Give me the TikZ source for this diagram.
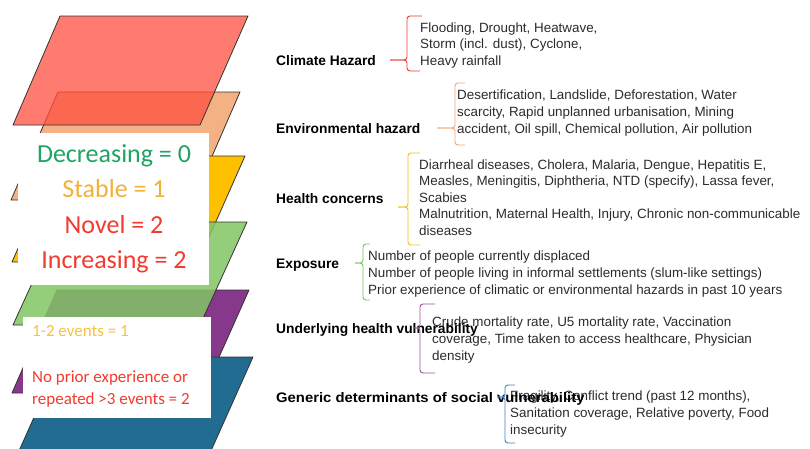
\documentclass[tikz,border=0pt]{standalone}
\usepackage{fontspec}
\setmainfont{Liberation Sans}
\newfontfamily\keyfont{Carlito}
\definecolor{layred}{HTML}{FF4F40}
\definecolor{laypeach}{HTML}{F4B183}
\definecolor{layyellow}{HTML}{FFC000}
\definecolor{laygreen}{HTML}{82C564}
\definecolor{laypurple}{HTML}{86388A}
\definecolor{layblue}{HTML}{216C90}
\definecolor{keygreen}{HTML}{1FA463}
\definecolor{keyorange}{HTML}{F2B13A}
\definecolor{keyred}{HTML}{F23B2E}
\definecolor{keyyellow}{HTML}{F9C23C}
\definecolor{brred}{HTML}{F0382C}
\definecolor{brpeach}{HTML}{F4A46E}
\definecolor{bryellow}{HTML}{F5BC1C}
\definecolor{brgreen}{HTML}{7CC35C}
\definecolor{brpurple}{HTML}{9A4E98}
\definecolor{brblue}{HTML}{3A83C8}
\definecolor{bodytext}{HTML}{2B2B2B}

% brace: colour, tip x, tip y, spine x, top y, bottom y, top arm x, bottom arm x
\newcommand\catbrace[8]{%
  \draw[bracestroke, draw=#1] (#7,#5) -- (#4,#5) -- (#4,#3) -- (#2,#3);
  \draw[bracestroke, draw=#1] (#8,#6) -- (#4,#6) -- (#4,#3) -- (#2,#3);}

\begin{document}
\begin{tikzpicture}[x=1pt,y=-1pt,
  layer/.style={draw=black!80, line width=0.8pt, line join=round},
  keybox/.style={fill=white, draw=none},
  keytext/.style={font=\keyfont\fontsize{26}{30}\selectfont, inner sep=0, anchor=base},
  smallkey/.style={font=\keyfont\fontsize{17}{20}\selectfont, inner sep=0, anchor=base west},
  lbl/.style={font=\bfseries\fontsize{13.8}{15}\selectfont, text=black, inner sep=0, anchor=base west},
  items/.style={font=\fontsize{13.4}{16.6}\selectfont, text=bodytext, inner sep=0, anchor=base west, align=left},
  bracestroke/.style={line width=0.9pt, rounded corners=3pt}]
\useasboundingbox (0,0) rectangle (810,448);
\clip (0,0) rectangle (810,448);

% stacked layers
\draw[layer, fill=laypeach] (58,92) -- (240,92) -- (193,200) -- (11,200) -- cycle;
\draw[layer, fill=layred, fill opacity=0.75] (60,16) -- (248,16) -- (200,125) -- (13,125) -- cycle;
\draw[layer, fill=layyellow] (59,156) -- (245,156) -- (198,262) -- (12,262) -- cycle;
\draw[layer, fill=laypurple] (57,290) -- (249,290) -- (203,393) -- (12,393) -- cycle;
\draw[layer, fill=layblue] (61,357) -- (253,357) -- (206,462) -- (14,462) -- cycle;
\draw[layer, fill=laygreen, fill opacity=0.85] (60,222) -- (247,222) -- (200,325) -- (13,325) -- cycle;

% score keys
\fill[keybox] (18,133) rectangle (209,285);
\node[keytext, text=keygreen] (k0) at (114,162) {Decreasing = 0};
\node[keytext, text=keyorange] (k1) at (114,197.5) {Stable = 1};
\node[keytext, text=keyred] (k2) at (114,233) {Novel = 2};
\node[keytext, text=keyred] (k3) at (114,268.5) {Increasing = 2};

\fill[keybox] (23,317) rectangle (211,418);
\node[smallkey, text=keyyellow] (e1) at (32,336) {1-2 events = 1};
\node[smallkey, text=keyred] (e2) at (32,382) {No prior experience or};
\node[smallkey, text=keyred] (e3) at (32,404) {repeated >3 events = 2};

% indicator lists (anchored on the baseline of their last line)
\node[items] (t1) at (420,65.5) {Flooding, Drought, Heatwave,\\Storm (incl. dust), Cyclone,\\Heavy rainfall};
\node[items] (t2) at (457,133) {Desertification, Landslide, Deforestation, Water\\scarcity, Rapid unplanned urbanisation, Mining\\accident, Oil spill, Chemical pollution, Air pollution};
\node[items] (t3) at (419,235.5) {Diarrheal diseases, Cholera, Malaria, Dengue, Hepatitis E,\\Measles, Meningitis, Diphtheria, NTD (specify), Lassa fever,\\Scabies\\Malnutrition, Maternal Health, Injury, Chronic non-communicable\\diseases};
\node[items] (t4) at (368,294) {Number of people currently displaced\\Number of people living in informal settlements (slum-like settings)\\Prior experience of climatic or environmental hazards in past 10 years};
\node[items] (t5) at (432,360) {Crude mortality rate, U5 mortality rate, Vaccination\\coverage, Time taken to access healthcare, Physician\\density};
\node[items] (t6) at (510,434) {Fragility, Conflict trend (past 12 months),\\Sanitation coverage, Relative poverty, Food\\insecurity};

% category labels
\node[lbl] (c1) at (276,65) {Climate Hazard};
\node[lbl] (c2) at (276,133) {Environmental hazard};
\node[lbl] (c3) at (276,203) {Health concerns};
\node[lbl] (c4) at (276,268) {Exposure};
\node[lbl] (c5) at (276,333) {Underlying health vulnerability};
\node[lbl] (c6) at (276,402) {\scalebox{1.075}[1]{Generic determinants of social vulnerability}};

% braces
\catbrace{brred}{390}{60}{407}{16}{71}{422}{420}
\catbrace{brpeach}{437}{128}{455}{83}{145}{465}{465}
\catbrace{bryellow}{398}{207}{408}{153}{245}{420}{420}
\catbrace{brgreen}{355}{263}{363}{244}{300}{370}{370}
\catbrace{brpurple}{413}{328}{420}{304}{373}{435}{435}
\catbrace{brblue}{497}{397}{505}{385}{443}{515}{515}
\end{tikzpicture}
\end{document}
